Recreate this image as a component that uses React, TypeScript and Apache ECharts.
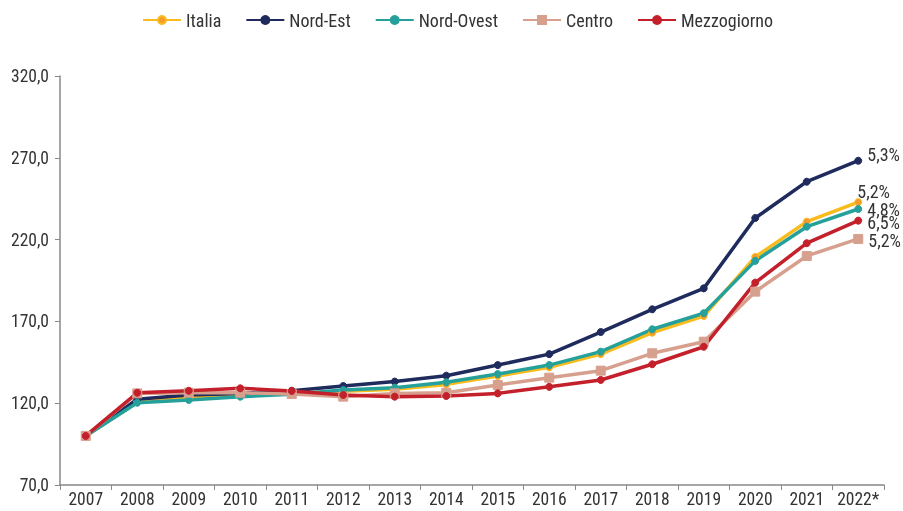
import React, { useEffect, useRef } from "react";
import * as echarts from "echarts";

const years = ["2007","2008","2009","2010","2011","2012","2013","2014","2015","2016","2017","2018","2019","2020","2021","2022*"];
const italia = [100, 121.3, 123, 125, 126, 127.3, 128.5, 131.5, 136.6, 141.9, 150, 163.1, 173.3, 209.4, 231, 242.9];
const nordEst = [100, 122.4, 125, 126, 127.6, 130.5, 133.2, 136.8, 143.3, 150, 163.5, 177.4, 190.2, 233.2, 255.4, 268.2];
const nordOvest = [100, 120.3, 122, 124, 125.4, 128, 129.5, 132.8, 137.8, 143.3, 151.5, 165.2, 175, 207, 227.9, 238.7];
const centro = [100, 126, 126.4, 126.4, 125.6, 124, 126, 126.4, 131.1, 135.6, 139.9, 150.5, 157.6, 188.2, 210, 220.4];
const mezzogiorno = [100, 126.4, 127.6, 129.1, 127.5, 125, 124, 124.4, 126, 130, 134.2, 143.8, 154.5, 193.7, 217.8, 231.6];
const endLabels = ["5,2%", "5,3%", "4,8%", "5,2%", "6,5%"];

const FONT = "'Roboto Condensed', Roboto, sans-serif";

export default function App() {
  const ref = useRef<HTMLDivElement>(null);
  useEffect(() => {
    const chart = echarts.init(ref.current!, null, { renderer: "svg" });
    const mk = (name: string, data: number[], line: string, dot: string, symbol: string, size: number, label: string, offset: number[]) => ({
      name,
      type: "line",
      data: data.map((v, i) =>
        i === data.length - 1
          ? { value: v, label: { show: true, position: "right", offset, formatter: label, color: "#333", fontSize: 18, fontFamily: FONT } }
          : v
      ),
      symbol,
      symbolSize: size,
      showSymbol: true,
      lineStyle: { color: line, width: 3.5 },
      itemStyle: { color: dot, borderColor: line, borderWidth: 1 },
      emphasis: { disabled: true },
    });
    chart.setOption({
      animation: false,
      textStyle: { fontFamily: FONT },
      legend: {
        top: 6,
        left: 137,
        itemWidth: 38,
        itemHeight: 10,
        itemGap: 24,
        textStyle: { fontSize: 18, color: "#333", fontFamily: FONT },
        data: ["Italia", "Nord-Est", "Nord-Ovest", "Centro", "Mezzogiorno"],
      },
      grid: { left: 60, right: 19, top: 76, bottom: 26, containLabel: false },
      xAxis: {
        type: "category",
        data: years,
        boundaryGap: true,
        axisLine: { lineStyle: { color: "#888", width: 1.5 } },
        axisTick: { show: true, lineStyle: { color: "#888" }, length: 5 },
        axisLabel: { color: "#333", fontSize: 17.5, fontFamily: FONT, margin: 5, interval: 0 },
      },
      yAxis: {
        type: "value",
        min: 70,
        max: 320,
        interval: 50,
        axisLine: { show: true, lineStyle: { color: "#888", width: 1.5 } },
        axisTick: { show: true, lineStyle: { color: "#888" }, length: 5 },
        splitLine: { show: false },
        axisLabel: {
          color: "#333",
          fontSize: 17.5,
          fontFamily: FONT,
          margin: 11,
          formatter: (v: number) => v.toFixed(1).replace(".", ","),
        },
      },
      series: [
        mk("Italia", italia, "#F9BC1C", "#F39C2C", "circle", 7, endLabels[0], [-10, -11]),
        mk("Nord-Est", nordEst, "#1E2B5C", "#1E2B5C", "circle", 7, endLabels[1], [0, -6]),
        mk("Nord-Ovest", nordOvest, "#25A09B", "#25A09B", "circle", 7, endLabels[2], [0, 0]),
        mk("Centro", centro, "#D7A08E", "#D7A08E", "rect", 9, endLabels[3], [0, 2]),
        mk("Mezzogiorno", mezzogiorno, "#C4202B", "#C4202B", "circle", 7, endLabels[4], [0, 2]),
      ],
    });
    return () => chart.dispose();
  }, []);
  return <div ref={ref} style={{ position: "fixed", left: 0, top: 0, width: 903, height: 511 }} />;
}
